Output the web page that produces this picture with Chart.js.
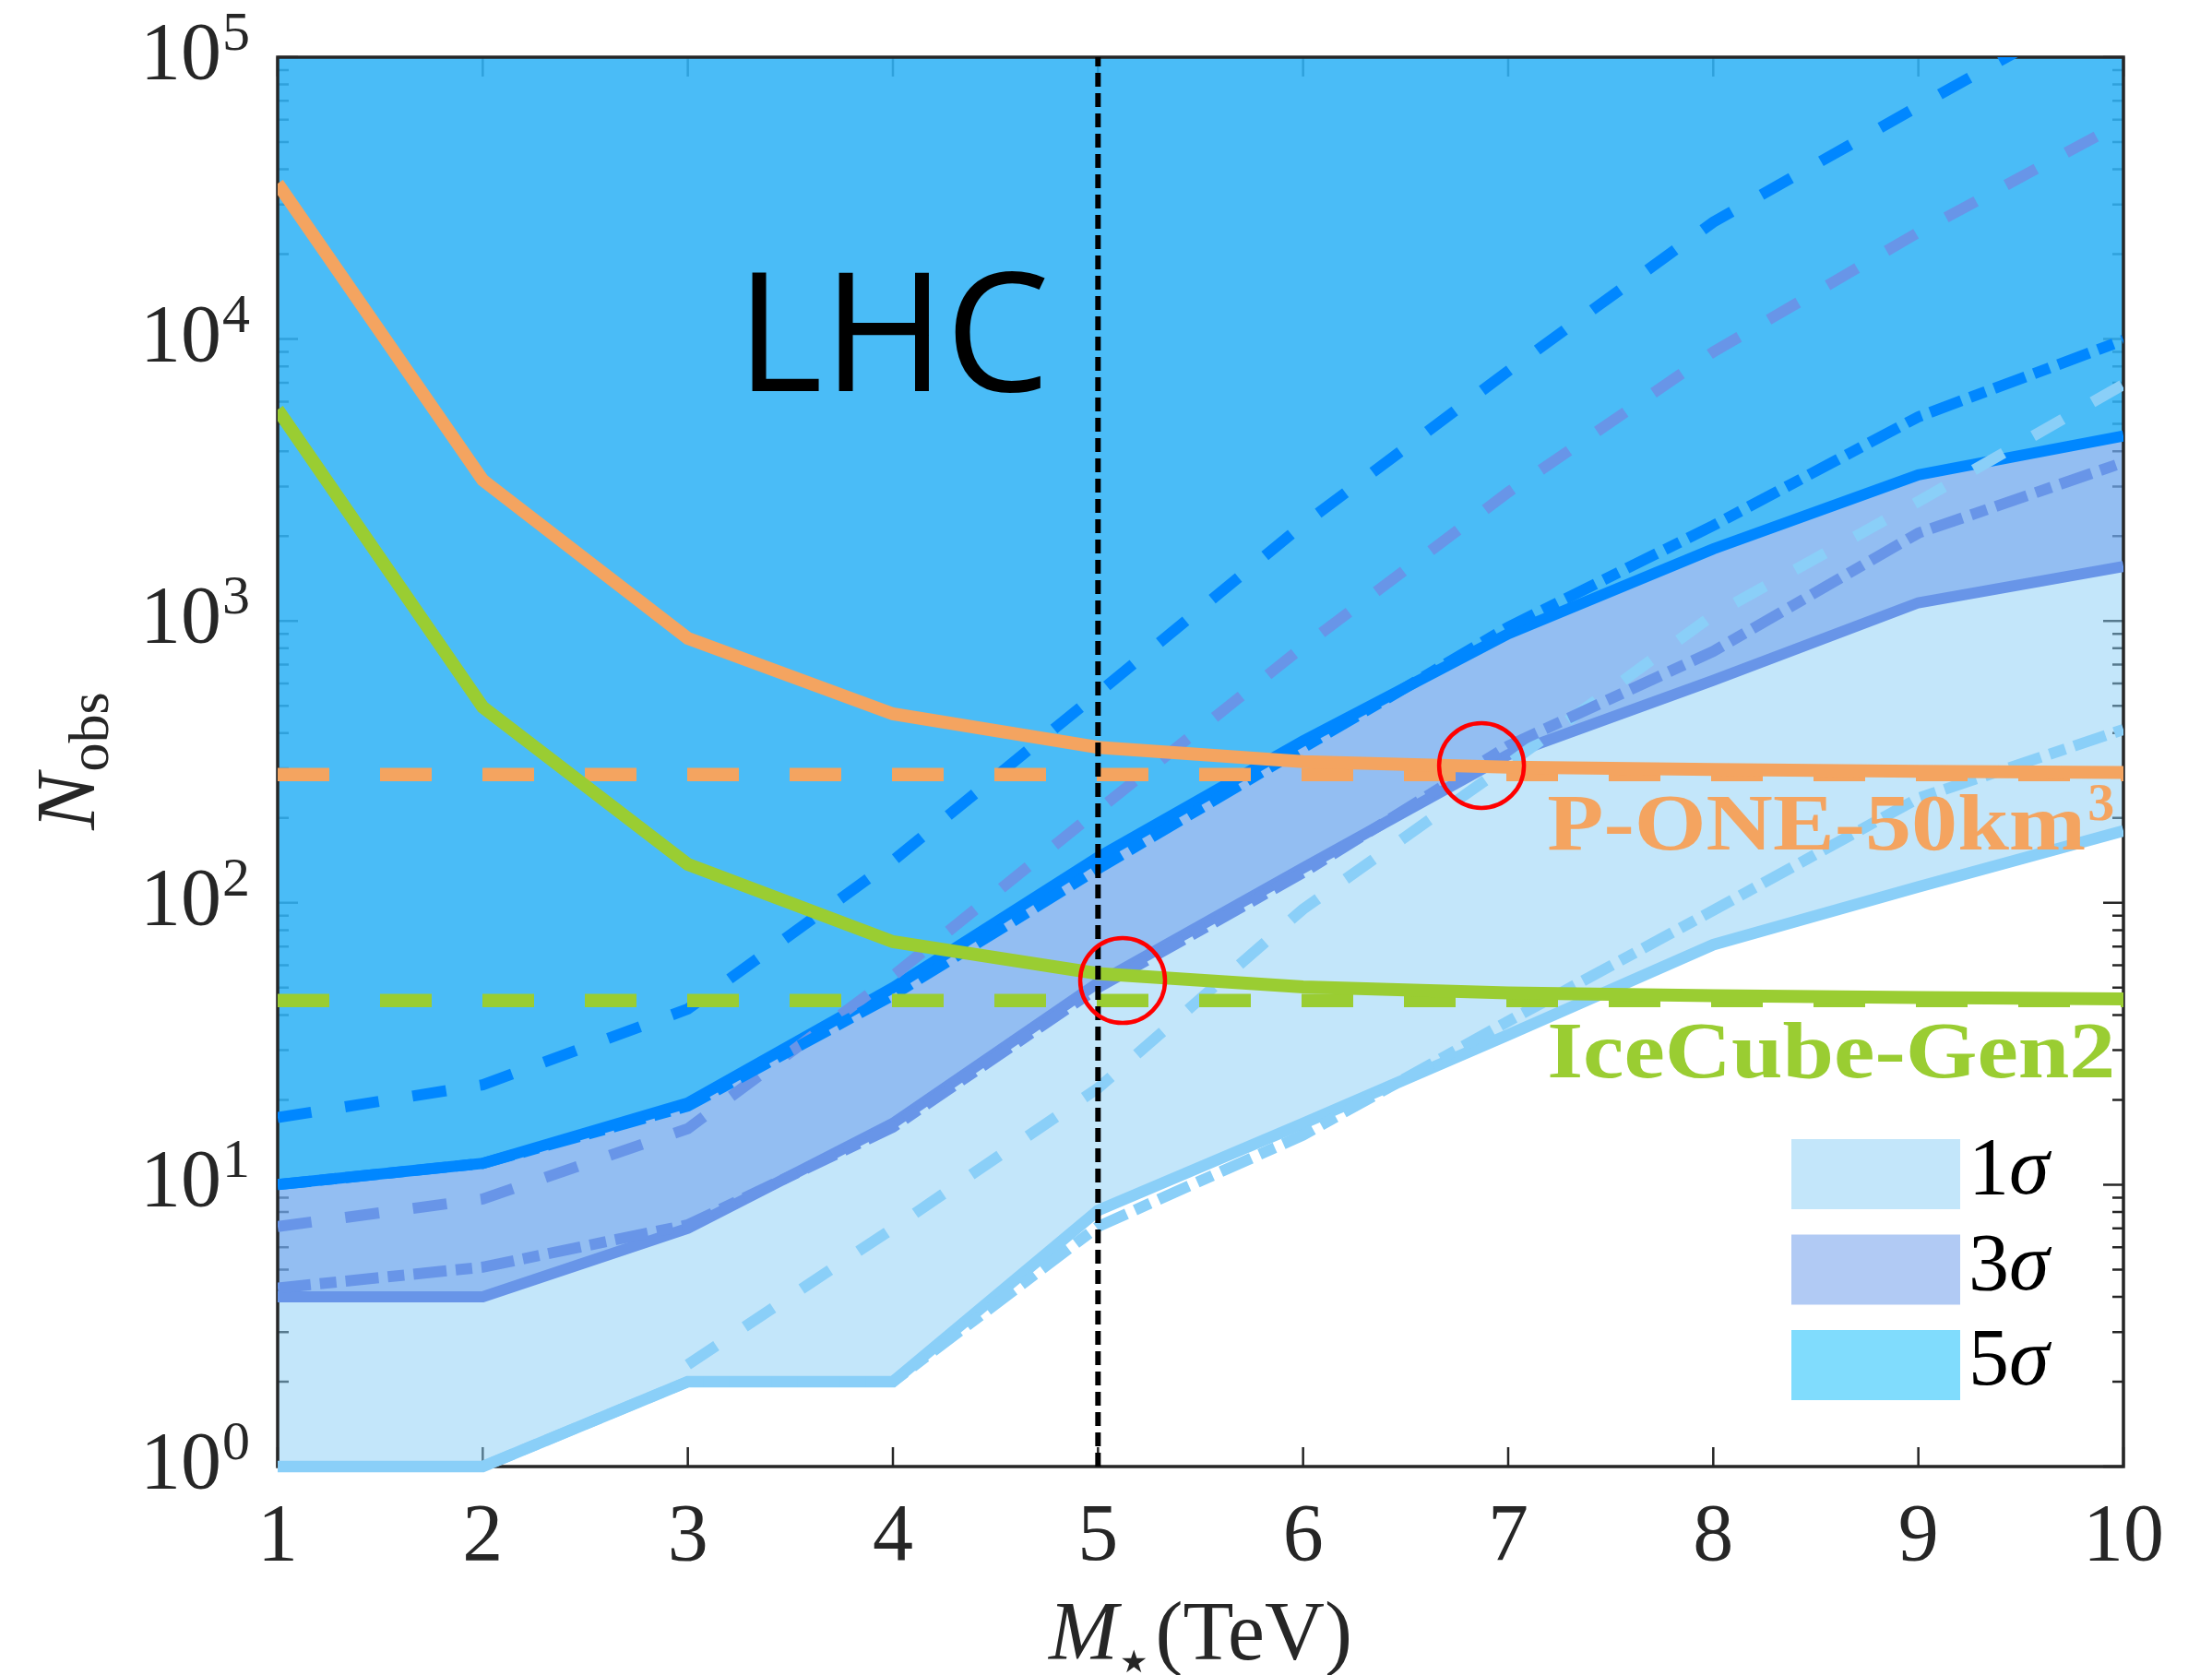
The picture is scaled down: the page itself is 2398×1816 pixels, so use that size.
<!DOCTYPE html>
<html>
<head>
<meta charset="utf-8">
<script src="https://cdn.jsdelivr.net/npm/chart.js@4.4.1/dist/chart.umd.min.js"></script>
<style>
  html, body { margin: 0; padding: 0; background: #fff; }
</style>
</head>
<body>
<canvas id="myChart" width="2398" height="1816"></canvas>
<script>
// M* in TeV
const mass = [1, 2, 3, 4, 5, 6, 7, 8, 9, 10];

// expected events for 1, 3 and 5 sigma: solid, dash-dot, dashed
const oneSigmaSolid     = [1, 1, 2, 2, 8.1, 16.5, 34, 71, 114, 180];
const oneSigmaDashDot   = [1, 1, 2, 2, 7.1, 15, 38, 94, 235, 412];
const oneSigmaDashed    = [null, null, 2.3, 7, 22, 95, 310, 1050, 2650, 6900];

const threeSigmaSolid   = [4, 4, 7, 16.5, 52, 133, 335, 615, 1160, 1560];
const threeSigmaDashDot = [4.3, 5.1, 7.2, 16, 50, 128, 360, 780, 2050, 3650];
const threeSigmaDashed  = [7.1, 8.9, 15.8, 55, 213, 810, 2860, 9000, 23900, 59000];

const fiveSigmaSolid    = [10, 11.9, 19.5, 50, 145, 375, 900, 1800, 3300, 4530];
const fiveSigmaDashDot  = [10, 11.9, 19, 47, 132, 355, 950, 2180, 5300, 9900];
const fiveSigmaDashed   = [17.3, 22.6, 42, 141, 555, 2200, 7700, 26000, 67000, 170000];

// detector reach
const pOne    = [35600, 3160, 868, 468, 356, 317, 303, 297, 293, 290];
const iceCube = [5620, 495, 137, 72.8, 56.1, 50.3, 47.9, 46.8, 46.1, 45.6];
const floorMass    = [1, 10];
const pOneFloor    = [285, 285];
const iceCubeFloor = [45, 45];

// LHC bound at 5 TeV
const lhcMass = [5, 5];
const lhcSpan = [1, 100000];

// crossings marked with circles
const circleMass  = [5.12, 6.87];
const circleCount = [53, 307];

const xTicks = [1, 2, 3, 4, 5, 6, 7, 8, 9, 10];
const yExponents = [0, 1, 2, 3, 4, 5];
const legendLabels = ['1', '3', '5'];

const axisColor = '#262626';
const oneColor = '#8ACFF8', threeColor = '#6895E8', fiveColor = '#0087FF';
const oneFill = 'rgba(135,205,245,0.5)';
const threeFill = 'rgba(99,149,233,0.5)';
const fiveFill = 'rgba(1,185,251,0.5)';
const orange = '#F4A460', green = '#9ACD32';

const DASH = [37, 37];
const DASHDOT = [36, 10, 18, 10];
const BLUE_W = 12;

const pts = (xs, ys) => xs.map((x, i) => ({x: x, y: ys[i]}));

function line(data, color, width, dash, order, extra) {
    return Object.assign({
        data: data,
        borderColor: color,
        borderWidth: width,
        borderDash: dash,
        pointRadius: 0,
        tension: 0,
        fill: false,
        order: order
    }, extra || {});
}

function stretched(ctx, str, left, base, width) {
    const w = ctx.measureText(str).width;
    ctx.save();
    ctx.translate(left, base);
    ctx.scale(width / w, 1);
    ctx.textAlign = 'left';
    ctx.fillText(str, 0, 0);
    ctx.restore();
}

const frame = {
    id: 'frame',
    beforeDraw(chart) {
        const {ctx, chartArea: a, scales: {x, y}} = chart;
        ctx.save();
        ctx.fillStyle = '#fff';
        ctx.fillRect(0, 0, chart.width, chart.height);
        ctx.strokeStyle = axisColor;
        ctx.lineWidth = 2.5;
        ctx.beginPath();
        xTicks.forEach(v => {
            const px = x.getPixelForValue(v);
            ctx.moveTo(px, a.bottom); ctx.lineTo(px, a.bottom - 21);
            ctx.moveTo(px, a.top); ctx.lineTo(px, a.top + 21);
        });
        for (let e = 0; e <= 5; e++) {
            for (let m = 1; m < 10; m++) {
                if (e === 5 && m > 1) break;
                const py = y.getPixelForValue(m * Math.pow(10, e));
                const len = m === 1 ? 22 : 12;
                ctx.moveTo(a.left, py); ctx.lineTo(a.left + len, py);
                ctx.moveTo(a.right, py); ctx.lineTo(a.right - len, py);
            }
        }
        ctx.stroke();
        ctx.restore();
    },
    beforeDatasetsDraw(chart) {
        const {ctx, chartArea: a} = chart;
        ctx.save();
        ctx.strokeStyle = axisColor;
        ctx.lineWidth = 3.5;
        ctx.strokeRect(a.left, a.top, a.right - a.left, a.bottom - a.top);
        ctx.restore();
    },
    afterDraw(chart) {
        const {ctx, chartArea: a, scales: {x, y}} = chart;
        ctx.save();
        ctx.fillStyle = axisColor;
        ctx.textBaseline = 'alphabetic';

        // x tick labels
        ctx.font = '88px "Liberation Serif"';
        ctx.textAlign = 'center';
        xTicks.forEach(v => ctx.fillText(String(v), x.getPixelForValue(v), a.bottom + 101));

        // y tick labels as powers of ten
        yExponents.forEach(e => {
            const py = y.getPixelForValue(Math.pow(10, e));
            const edge = a.left - 61;
            ctx.textAlign = 'right';
            ctx.font = '88px "Liberation Serif"';
            ctx.fillText('10', edge, py + 23);
            ctx.textAlign = 'left';
            ctx.font = '60px "Liberation Serif"';
            ctx.fillText(String(e), edge + 1, py - 8);
        });

        // x title: M*(TeV)
        ctx.textAlign = 'left';
        ctx.font = 'italic 90px "Liberation Serif"';
        const wM = ctx.measureText('M').width;
        ctx.font = '34px "DejaVu Sans"';
        const wStar = ctx.measureText('\u2605').width;
        ctx.font = '90px "Liberation Serif"';
        const wUnit = ctx.measureText('(TeV)').width;
        let x0 = (a.left + a.right) / 2 - (wM + wStar + wUnit + 10) / 2;
        const base = a.bottom + 209;
        ctx.font = 'italic 90px "Liberation Serif"';
        ctx.fillText('M', x0, base);
        ctx.font = '34px "DejaVu Sans"';
        ctx.fillText('\u2605', x0 + wM + 2, base + 14);
        ctx.font = '90px "Liberation Serif"';
        ctx.fillText('(TeV)', x0 + wM + wStar + 10, base);

        // y title: N_obs
        ctx.save();
        ctx.translate(a.left - 199, (a.top + a.bottom) / 2);
        ctx.rotate(-Math.PI / 2);
        ctx.font = 'italic 92px "Liberation Serif"';
        const wN = ctx.measureText('N').width;
        ctx.font = '62px "Liberation Serif"';
        const wSub = ctx.measureText('obs').width;
        const s = -(wN + wSub) / 2;
        ctx.font = 'italic 92px "Liberation Serif"';
        ctx.fillText('N', s, 0);
        ctx.font = '62px "Liberation Serif"';
        ctx.fillText('obs', s + wN + 2, 15);
        ctx.restore();

        // region label
        ctx.fillStyle = '#000';
        ctx.font = '180px "Open Sans"';
        ctx.textAlign = 'center';
        ctx.fillText('LHC', x.getPixelForValue(4.0), y.getPixelForValue(6540));

        // detector labels
        const labelLeft = x.getPixelForValue(7.19);
        ctx.fillStyle = orange;
        ctx.font = 'bold 86px "Liberation Serif"';
        const pBase = y.getPixelForValue(154);
        stretched(ctx, 'P-ONE-50km', labelLeft, pBase, 584);
        ctx.font = 'bold 58px "Liberation Serif"';
        ctx.textAlign = 'left';
        ctx.fillText('3', labelLeft + 586, pBase - 32);

        ctx.fillStyle = green;
        ctx.font = 'bold 86px "Liberation Serif"';
        stretched(ctx, 'IceCube-Gen2', labelLeft, y.getPixelForValue(24), 616);

        // legend
        const fills = [oneFill, threeFill, fiveFill];
        legendLabels.forEach((lab, i) => {
            const top = a.bottom - 355 + i * 103.5;
            ctx.fillStyle = fills[i];
            ctx.fillRect(a.right - 360, top, 183, 76);
            ctx.fillStyle = '#000';
            ctx.textAlign = 'left';
            ctx.font = '88px "Liberation Serif"';
            const tx = a.right - 168;
            ctx.fillText(lab, tx, top + 38 + 21);
            const w1 = ctx.measureText(lab).width;
            ctx.font = 'italic 88px "Liberation Serif"';
            ctx.fillText('\u03C3', tx + w1, top + 38 + 21);
        });
        ctx.restore();
    }
};

const ctx = document.getElementById('myChart').getContext('2d');
const myChart = new Chart(ctx, {
    type: 'line',
    data: {
        datasets: [
            line(pts(mass, oneSigmaSolid), oneColor, BLUE_W + 0.5, [], 20,
                 {fill: 'end', backgroundColor: oneFill, clip: {left: 0, top: 0, right: 0, bottom: 8}}),
            line(pts(mass, threeSigmaSolid), threeColor, BLUE_W, [], 19, {fill: 'end', backgroundColor: threeFill}),
            line(pts(mass, fiveSigmaSolid), fiveColor, BLUE_W, [], 18, {fill: 'end', backgroundColor: fiveFill}),
            line(pts(mass, oneSigmaDashDot), oneColor, BLUE_W, DASHDOT, 17),
            line(pts(mass, oneSigmaDashed), oneColor, BLUE_W, DASH, 16),
            line(pts(mass, threeSigmaDashDot), threeColor, BLUE_W, DASHDOT, 15),
            line(pts(mass, threeSigmaDashed), threeColor, BLUE_W, DASH, 14),
            line(pts(mass, fiveSigmaDashDot), fiveColor, BLUE_W, DASHDOT, 13),
            line(pts(mass, fiveSigmaDashed), fiveColor, BLUE_W, DASH, 12),
            line(pts(floorMass, iceCubeFloor), green, 14.5, [56, 55], 11),
            line(pts(floorMass, pOneFloor), orange, 14.5, [56, 55], 10),
            line(pts(mass, iceCube), green, 14, [], 9),
            line(pts(mass, pOne), orange, 14, [], 8),
            line(pts(lhcMass, lhcSpan), '#000', 6, [15, 7], 2),
            {
                data: pts(circleMass, circleCount),
                showLine: false,
                pointStyle: 'circle',
                pointRadius: 46,
                pointBorderWidth: 4.5,
                pointBorderColor: '#FF0000',
                pointBackgroundColor: 'rgba(0,0,0,0)',
                order: 1
            }
        ]
    },
    options: {
        responsive: false,
        devicePixelRatio: 1,
        animation: false,
        events: [],
        layout: { padding: { left: 301, right: 96, top: 62, bottom: 226 } },
        scales: {
            x: { type: 'linear', min: 1, max: 10, display: false },
            y: { type: 'logarithmic', min: 1, max: 100000, display: false }
        },
        plugins: {
            legend: { display: false },
            tooltip: { enabled: false },
            filler: { drawTime: 'beforeDatasetsDraw' }
        }
    },
    plugins: [frame]
});
</script>
</body>
</html>
